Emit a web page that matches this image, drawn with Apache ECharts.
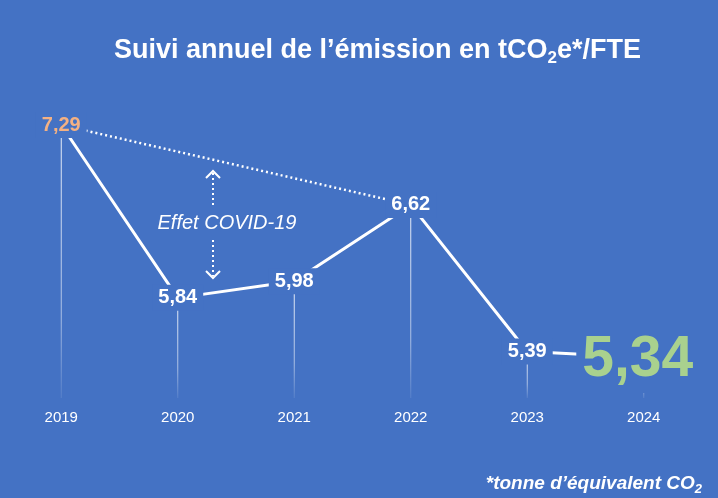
<!DOCTYPE html>
<html>
<head>
<meta charset="utf-8">
<script src="https://cdn.jsdelivr.net/npm/echarts@6/dist/echarts.min.js"></script>
<style>
  html, body { margin: 0; padding: 0; background: #4472C4; }
  #main { width: 718px; height: 498px; }
</style>
</head>
<body>
<div id="main"></div>
<script>
// ********
// * Data *
// ********
const years = ["2019", "2020", "2021", "2022", "2023", "2024"];
const emissions = [7.29, 5.84, 5.98, 6.62, 5.39, 5.34];
// Dotted reference line: 2019 -> 2022
const refIndexes = [0, 3];

const bg = "#4472C4";
const font = "Liberation Sans";
const yMin = 5;
const yMax = 7.5;

const chart = echarts.init(document.getElementById("main"));

// French decimal comma
const frNumber = (v) => v.toFixed(2).replace(".", ",");

// Point labels, with a background so lines stop short of the numbers
function labelFor(index) {
  const label = {
    show: true,
    position: "inside",
    formatter: (p) => frNumber(p.value),
    fontFamily: font,
    fontSize: 20,
    fontWeight: "bold",
    color: "#fff",
    backgroundColor: bg,
    padding: [3, 6],
  };
  if (index === 0) {
    label.color = "#F4B183";
  }
  if (index === emissions.length - 1) {
    label.fontSize = 57;
    label.color = "#A9D18E";
    label.padding = [4, 6];
    label.offset = [-6, 3];
  }
  return label;
}

const lineData = emissions.map((v, i) => ({ value: v, label: labelFor(i) }));
const refData = emissions.map((v, i) => (refIndexes.includes(i) ? v : "-"));
const dropData = emissions.map((v, i) => [i, v]);

const option = {
  backgroundColor: bg,
  animation: false,
  title: [
    {
      left: 114,
      top: 35,
      padding: 0,
      text: "{a|Suivi annuel de l’émission en tCO}{s|2}{a|e*/FTE}",
      textStyle: {
        rich: {
          a: { fontFamily: font, fontSize: 27, fontWeight: "bold", color: "#fff", lineHeight: 32 },
          s: { fontFamily: font, fontSize: 17, fontWeight: "bold", color: "#fff", lineHeight: 17, verticalAlign: "bottom" },
        },
      },
    },
    {
      right: 16,
      top: 472,
      padding: 0,
      text: "{a|*tonne d’équivalent CO}{s|2}",
      textStyle: {
        rich: {
          a: { fontFamily: font, fontSize: 19, fontStyle: "italic", color: "#fff", lineHeight: 24 },
          s: { fontFamily: font, fontSize: 13, fontStyle: "italic", color: "#fff", lineHeight: 12, verticalAlign: "bottom" },
        },
      },
    },
  ],
  grid: { left: 3, right: 16, top: 100, bottom: 100 },
  xAxis: {
    type: "category",
    data: years,
    boundaryGap: true,
    axisLine: { show: false },
    axisTick: { show: false },
    splitLine: { show: false },
    axisLabel: { color: "#fff", fontFamily: font, fontSize: 15, margin: 12 },
  },
  yAxis: {
    type: "value",
    show: false,
    min: yMin,
    max: yMax,
    splitLine: { show: false },
  },
  graphic: [
    {
      type: "text",
      x: 227,
      y: 223,
      style: {
        text: "Effet COVID-19",
        fill: "#fff",
        font: "italic 20px 'Liberation Sans'",
        textAlign: "center",
        textVerticalAlign: "middle",
      },
    },
    {
      type: "line",
      shape: { x1: 213, y1: 205, x2: 213, y2: 173 },
      style: { stroke: "#fff", lineWidth: 2, lineDash: [2, 3] },
    },
    {
      type: "polyline",
      shape: { points: [[206, 178], [213, 171], [220, 178]] },
      style: { stroke: "#fff", lineWidth: 2, fill: null },
    },
    {
      type: "line",
      shape: { x1: 213, y1: 240, x2: 213, y2: 276 },
      style: { stroke: "#fff", lineWidth: 2, lineDash: [2, 3] },
    },
    {
      type: "polyline",
      shape: { points: [[206, 271], [213, 278], [220, 271]] },
      style: { stroke: "#fff", lineWidth: 2, fill: null },
    },
  ],
  series: [
    {
      // Thin drop lines from each point down to the axis
      type: "custom",
      z: 1,
      silent: true,
      data: dropData,
      encode: { x: 0, y: 1 },
      renderItem: (params, api) => {
        const top = api.coord([api.value(0), api.value(1)]);
        const bottom = api.coord([api.value(0), yMin]);
        return {
          type: "line",
          shape: { x1: top[0], y1: top[1], x2: bottom[0], y2: bottom[1] },
          style: {
            lineWidth: 1,
            stroke: {
              type: "linear",
              x: 0, y: top[1], x2: 0, y2: bottom[1],
              global: true,
              colorStops: [
                { offset: 0, color: "rgba(255,255,255,0.9)" },
                { offset: 0.7, color: "rgba(255,255,255,0.55)" },
                { offset: 1, color: "rgba(255,255,255,0.1)" },
              ],
            },
          },
        };
      },
    },
    {
      name: "Référence",
      type: "line",
      z: 2,
      silent: true,
      data: refData,
      connectNulls: true,
      symbol: "none",
      lineStyle: { color: "#fff", width: 2.5, type: [2, 3] },
    },
    {
      name: "tCO2e/FTE",
      type: "line",
      z: 5,
      silent: true,
      data: lineData,
      symbol: "circle",
      symbolSize: 1,
      itemStyle: { color: "rgba(0,0,0,0)" },
      lineStyle: { color: "#fff", width: 3 },
      emphasis: { disabled: true },
    },
  ],
};

chart.setOption(option);
</script>
</body>
</html>
